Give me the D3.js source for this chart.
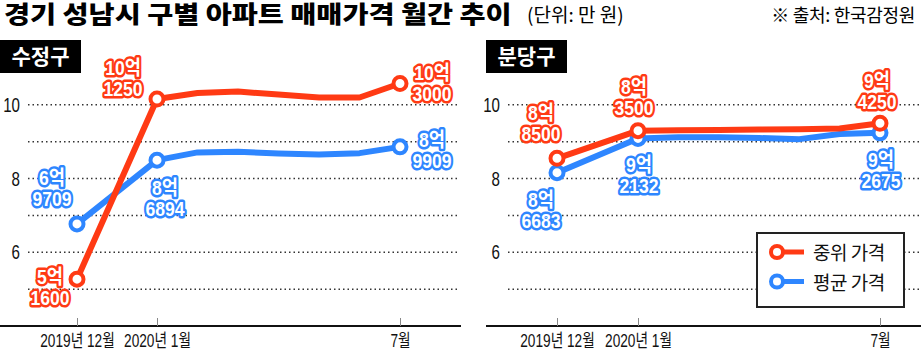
<!DOCTYPE html>
<html>
<head>
<meta charset="utf-8">
<script src="https://cdn.jsdelivr.net/npm/d3@7"></script>
<style>
  body { margin: 0; background: #fff; }
  svg { display: block; }
  .num { font-family: "Liberation Sans", "Noto Sans CJK KR", sans-serif; }
  .kr { font-family: "Noto Sans CJK KR", sans-serif; }
</style>
</head>
<body>
<div id="chart-area"></div>
<script>
// months: 2019.12 ~ 2020.7
const months = ["2019년 12월", "2020년 1월", "2월", "3월", "4월", "5월", "6월", "7월"];
const tickIdx = [0, 1, 7];
const yTicks = [6, 8, 10];
const gridVals = [5, 6, 7, 8, 9, 10];

// 억 원 단위
const sujeongMedian = [5.27, 10.16, 10.32, 10.36, 10.28, 10.2, 10.2, 10.58];
const sujeongAvg    = [6.77, 8.5, 8.71, 8.73, 8.68, 8.65, 8.69, 8.86];
const bundangMedian = [8.55, 9.30, 9.31, 9.32, 9.33, 9.34, 9.36, 9.5];
const bundangAvg    = [8.16, 9.09, 9.12, 9.12, 9.1, 9.07, 9.21, 9.24];

// labels on points 0, 1, 7
const sujeongMedianLabels = [["5억", "1600"], ["10억", "1250"], ["10억", "3000"]];
const sujeongAvgLabels    = [["6억", "9709"], ["8억", "6894"], ["8억", "9909"]];
const bundangMedianLabels = [["8억", "8500"], ["8억", "3500"], ["9억", "4250"]];
const bundangAvgLabels    = [["8억", "6683"], ["9억", "2132"], ["9억", "2675"]];

const RED = "#ff3a14", BLUE = "#2e86ff";

const svg = d3.select("#chart-area")
    .append("svg")
    .attr("width", 921)
    .attr("height", 354);

// title
svg.append("text")
    .attr("class", "kr")
    .attr("transform", "translate(4,23) scale(1.18,1)")
    .attr("font-size", "24px")
    .attr("font-weight", 900)
    .text("경기 성남시 구별 아파트 매매가격 월간 추이");
svg.append("text")
    .attr("class", "kr")
    .attr("x", 527)
    .attr("y", 22)
    .attr("font-size", "19px")
    .text("(단위: 만 원)");

svg.append("text")
    .attr("class", "kr")
    .attr("x", 915)
    .attr("y", 22)
    .attr("text-anchor", "end")
    .attr("font-size", "18px")
    .attr("letter-spacing", "-0.3px")
    .text("※ 출처: 한국감정원");

const y = d3.scaleLinear().domain([4, 11]).range([326, 68]);

function panel(opt) {
    const g = svg.append("g");
    const x = d3.scaleLinear().domain([0, 1, 7]).range(opt.xRange);

    // name box
    g.append("rect")
        .attr("x", opt.boxX).attr("y", 40)
        .attr("width", 81).attr("height", 33)
        .attr("fill", "#000");
    g.append("text")
        .attr("class", "kr")
        .attr("x", opt.boxX + 40.5).attr("y", 64)
        .attr("text-anchor", "middle")
        .attr("font-size", "21px")
        .attr("font-weight", 700)
        .attr("fill", "#fff")
        .text(opt.name);

    // grid
    g.selectAll(".grid")
        .data(gridVals)
        .enter().append("line")
        .attr("x1", opt.gridX[0]).attr("x2", opt.gridX[1])
        .attr("y1", d => y(d)).attr("y2", d => y(d))
        .attr("stroke", "#333")
        .attr("stroke-width", 1.5)
        .attr("stroke-dasharray", "1.5,3");

    // y labels
    g.selectAll(".ylab")
        .data(yTicks)
        .enter().append("text")
        .attr("class", "num")
        .attr("transform", d => "translate(" + opt.yLabX + "," + (y(d) + 7) + ") scale(0.72,1)")
        .attr("text-anchor", "end")
        .attr("font-size", "21px")
        .attr("fill", "#111")
        .text(d => d);

    // x axis
    const xAxis = d3.axisBottom(x)
        .tickValues(tickIdx)
        .tickSize(-8)
        .tickSizeOuter(0)
        .tickPadding(8)
        .tickFormat(i => months[i]);
    const ax = g.append("g")
        .attr("transform", "translate(0," + y(4) + ")")
        .call(xAxis);
    ax.select(".domain")
        .attr("d", "M" + opt.axisX[0] + ",0H" + opt.axisX[1])
        .attr("stroke", "#111")
        .attr("stroke-width", 2);
    ax.selectAll(".tick line").attr("stroke", "#888").attr("stroke-width", 1);
    ax.selectAll(".tick text")
        .attr("class", "num")
        .attr("font-size", "18px")
        .attr("transform", "scale(0.76,1)")
        .attr("fill", "#111");

    const line = d3.line()
        .x((d, i) => x(i))
        .y(d => y(d));

    [[opt.avg, BLUE, opt.avgLabels, opt.avgOff], [opt.median, RED, opt.medLabels, opt.medOff]].forEach(s => {
        const [vals, col, labs, offs] = s;
        g.append("path")
            .datum(vals)
            .attr("d", line)
            .attr("fill", "none")
            .attr("stroke", col)
            .attr("stroke-width", 6)
            .attr("stroke-linejoin", "round");
        g.selectAll(null)
            .data(tickIdx)
            .enter().append("circle")
            .attr("cx", i => x(i))
            .attr("cy", i => y(vals[i]))
            .attr("r", 6.5)
            .attr("fill", "#fff")
            .attr("stroke", col)
            .attr("stroke-width", 4);
        tickIdx.forEach((i, k) => {
            const cx = x(i) + offs[k][0], by = y(vals[i]) + offs[k][1];
            const t = g.append("text")
                .attr("class", "num")
                .attr("transform", "translate(" + cx + "," + by + ") scale(0.88,1)")
                .attr("text-anchor", "middle")
                .attr("font-size", "20px")
                .attr("font-weight", 700)
                .attr("fill", "#fff")
                .attr("stroke", col)
                .attr("stroke-width", 5)
                .attr("stroke-linejoin", "round")
                .attr("paint-order", "stroke");
            t.append("tspan").attr("x", 0).attr("y", -21).text(labs[k][0]);
            t.append("tspan").attr("x", 0).attr("y", 0).text(labs[k][1]);
        });
    });
}

panel({
    name: "수정구", boxX: 0,
    xRange: [77, 157, 400],
    gridX: [28, 460], axisX: [0, 461], yLabX: 20,
    median: sujeongMedian, avg: sujeongAvg,
    medLabels: sujeongMedianLabels, avgLabels: sujeongAvgLabels,
    medOff: [[-27, 26], [-34, -3], [32, 18]],
    avgOff: [[-25, -18], [8, 56], [32, 21]]
});

panel({
    name: "분당구", boxX: 486,
    xRange: [557, 638, 880],
    gridX: [508, 921], axisX: [486, 921], yLabX: 500,
    median: bundangMedian, avg: bundangAvg,
    medLabels: bundangMedianLabels, avgLabels: bundangAvgLabels,
    medOff: [[-16, -17], [-4, -16], [-3, -14]],
    avgOff: [[-16, 55], [1, 55], [1, 55]]
});

// legend
const lg = svg.append("g");
lg.append("rect")
    .attr("x", 757).attr("y", 233)
    .attr("width", 147).attr("height", 74)
    .attr("fill", "#fff")
    .attr("stroke", "#222")
    .attr("stroke-width", 2);
[["중위 가격", RED], ["평균 가격", BLUE]].forEach((d, i) => {
    const cy = 252 + i * 29.5;
    lg.append("line")
        .attr("x1", 777).attr("x2", 804)
        .attr("y1", cy).attr("y2", cy)
        .attr("stroke", d[1]).attr("stroke-width", 5);
    lg.append("circle")
        .attr("cx", 777).attr("cy", cy).attr("r", 6)
        .attr("fill", "#fff").attr("stroke", d[1]).attr("stroke-width", 4);
    lg.append("text")
        .attr("class", "kr")
        .attr("x", 813).attr("y", cy + 8)
        .attr("font-size", "19px")
        .attr("letter-spacing", "-0.5px")
        .attr("fill", "#111")
        .text(d[0]);
});
</script>
</body>
</html>
